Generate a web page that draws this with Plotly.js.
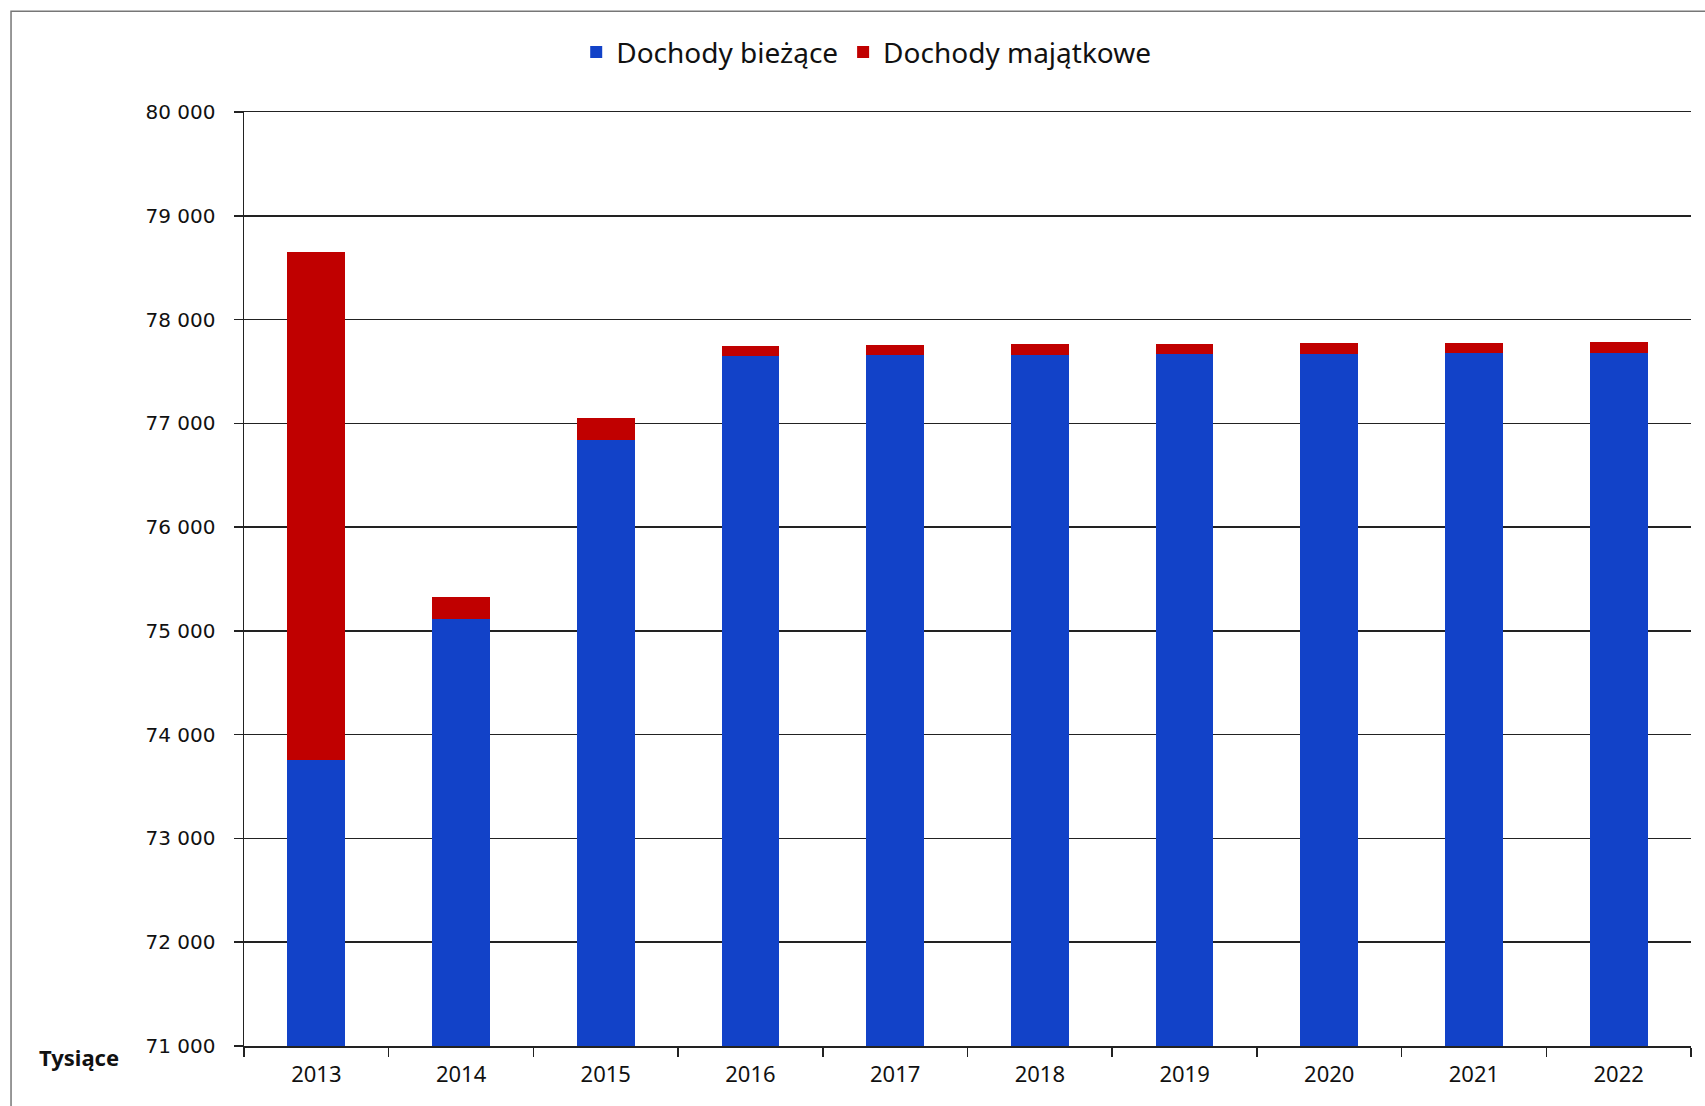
<!DOCTYPE html>
<html><head><meta charset="utf-8">
<script src="https://cdn.plot.ly/plotly-3.0.1.min.js"></script>
<style>html,body{margin:0;padding:0;background:#fff}#c{width:1705px;height:1106px}</style>
</head><body><div id="c"></div>
<script>
const years = ['2013','2014','2015','2016','2017','2018','2019','2020','2021','2022'];
const dochodyBiezace = [73760, 75110, 76840, 77650, 77655, 77660, 77665, 77670, 77675, 77680];
const dochodyMajatkowe = [4890, 220, 215, 100, 100, 100, 100, 100, 100, 100];
const yTicks = [71000,72000,73000,74000,75000,76000,77000,78000,79000,80000];

const traces = [
  {type:'bar', name:'Dochody bieżące', x:years, y:dochodyBiezace,
   marker:{color:'#1242c8'}, hoverinfo:'x+y'},
  {type:'bar', name:'Dochody majątkowe', x:years, y:dochodyMajatkowe,
   marker:{color:'#c00000'}, hoverinfo:'x+y'}
];
const layout = {
  width:1705, height:1106,
  margin:{l:244, r:14, t:112, b:60},
  paper_bgcolor:'#fff', plot_bgcolor:'#fff',
  barmode:'stack', bargap:0.6,
  separators:', ',
  showlegend:true,
  legend:{orientation:'h', x:0.43, xanchor:'center', y:1.064, yanchor:'middle',
    traceorder:'normal', font:{family:'Liberation Sans Narrow, Noto Sans, sans-serif', size:28, color:'#111'},
    itemsizing:'constant'},
  xaxis:{type:'category', showline:true, mirror:true, linecolor:'#222', linewidth:1.5,
    ticks:'outside', tickson:'boundaries', ticklen:9, tickcolor:'#222', tickwidth:1.5,
    ticklabelstandoff:8,
    tickfont:{family:'Noto Sans, sans-serif', size:22, color:'#111'}, showgrid:false},
  yaxis:{range:[71000,80000], tickvals:yTicks, tickformat:',d', showline:true, linecolor:'#222', linewidth:1.5,
    ticks:'outside', ticklen:9, tickcolor:'#222', tickwidth:1.5, ticklabelstandoff:14,
    gridcolor:'#222', gridwidth:1.5, zeroline:false,
    tickfont:{family:'DejaVu Sans, Verdana, sans-serif', size:20, color:'#111'}},
  annotations:[{text:'<b>Tysiące</b>', xref:'paper', yref:'paper', x:-0.114, y:-0.012,
    xanchor:'center', yanchor:'middle', showarrow:false,
    font:{family:'Liberation Sans Narrow, Noto Sans, sans-serif', size:22, color:'#111'}}],
  shapes:[{type:'rect', xref:'paper', yref:'paper', x0:-0.161, x1:1.2, y0:-0.3, y1:1.108,
    line:{color:'#777', width:1.5}, fillcolor:'rgba(0,0,0,0)', layer:'below'}]
};
Plotly.newPlot('c', traces, layout, {displayModeBar:false, staticPlot:true});
</script></body></html>
